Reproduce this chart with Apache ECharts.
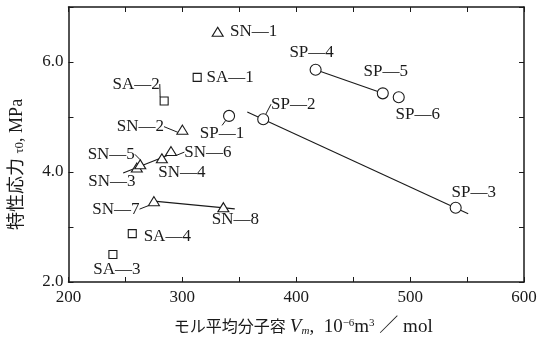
<!DOCTYPE html>
<html><head><meta charset="utf-8">
<script src="https://cdn.jsdelivr.net/npm/echarts@6/dist/echarts.min.js"></script>
<style>html,body{margin:0;padding:0;background:#fff}#c{width:542px;height:342px}</style>
</head><body><div id="c"></div>
<script>
// ---- data ----
const xTickLabels = [200, 300, 400, 500, 600];
const yTickLabels = [2.0, 4.0, 6.0];

const snNames = ['SN—1','SN—2','SN—3','SN—4','SN—5','SN—6','SN—7','SN—8'];
const snX = [331, 300, 260, 282, 263, 290, 275, 336];
const snY = [6.55, 4.77, 4.08, 4.25, 4.14, 4.38, 3.47, 3.36];

const saNames = ['SA—1','SA—2','SA—3','SA—4'];
const saX = [313, 284, 239, 256];
const saY = [5.72, 5.29, 2.50, 2.88];

const spNames = ['SP—1','SP—2','SP—3','SP—4','SP—5','SP—6'];
const spX = [341, 371, 540, 417, 476, 490];
const spY = [5.02, 4.96, 3.35, 5.86, 5.43, 5.36];

// trend lines (end points)
const lineSP23X = [357, 551], lineSP23Y = [5.09, 3.24];
const lineSP45X = [417, 476], lineSP45Y = [5.86, 5.43];
const lineSN78X = [275, 346], lineSN78Y = [3.47, 3.33];
const lineSN36X = [248, 289], lineSN36Y = [3.98, 4.32];

// ---- label styling (offsets of label centres in px) ----
const labelOffsets = {
  'SN—1':[36,0],'SN—2':[-42,-3],'SN—3':[-25,14],'SN—4':[20,14],'SN—5':[-29,-10],
  'SN—6':[37,1],'SN—7':[-38,8],'SN—8':[12,12],
  'SA—1':[33,0],'SA—2':[-28,-17],'SA—3':[4,15],'SA—4':[35,3],
  'SP—1':[-7,18],'SP—2':[30,-15],'SP—3':[18,-15],'SP—4':[-4,-17],'SP—5':[3,-22],'SP—6':[19,17]
};
const leaders = new Set(['SA—2','SN—2','SP—1','SP—2','SN—6','SN—7','SN—5']);

const SERIF = "'Liberation Serif','Noto Sans CJK JP',serif";
const INK = '#1a1a1a';

function pts(names, xs, ys) {
  return names.map((n, i) => ({
    name: n, value: [xs[i], ys[i]],
    labelLine: { show: leaders.has(n), lineStyle: { color: INK, width: 1 } }
  }));
}
function pairs(xs, ys) { return xs.map((x, i) => [x, ys[i]]); }

function scatter(names, xs, ys, symbol, size) {
  return {
    type: 'scatter', symbol: symbol, symbolSize: size, z: 5,
    itemStyle: { color: '#fff', borderColor: INK, borderWidth: 1.1, opacity: 1 },
    data: pts(names, xs, ys),
    label: {
      show: true, position: 'inside', formatter: p => p.name,
      fontFamily: SERIF, fontSize: 17, color: INK
    },
    labelLayout: function (p) {
      const o = labelOffsets[names[p.dataIndex]];
      return { dx: o[0], dy: o[1] };
    },
    emphasis: { disabled: true },
    silent: true
  };
}
function trend(xs, ys) {
  return {
    type: 'line', data: pairs(xs, ys), symbol: 'none', z: 3, silent: true,
    lineStyle: { color: INK, width: 1.1 }
  };
}

const axisCommon = {
  axisLine: { show: true, onZero: false, lineStyle: { color: INK, width: 1.5 } },
  axisTick: { show: true, inside: true, length: 5, lineStyle: { color: INK, width: 1 } },
  splitLine: { show: false }
};

const option = {
  animation: false,
  backgroundColor: '#fff',
  grid: { left: 68, right: 18, top: 7, bottom: 52 },
  xAxis: [
    Object.assign({
      type: 'value', min: 200, max: 600, interval: 50, position: 'bottom',
      axisLabel: {
        margin: 7, fontFamily: SERIF, fontSize: 17, color: INK,
        formatter: v => (xTickLabels.indexOf(v) >= 0 ? String(v) : '')
      },
      name: 'モル平均分子容 {i|V}{sub|m}{t|,  10}{sup|−6}{t|m}{sup|3}{t| ／ mol}',
      nameLocation: 'middle', nameGap: 36,
      nameTextStyle: {
        fontFamily: SERIF, fontSize: 16, color: INK, padding: [0, 0, 0, 14],
        rich: {
          i: { fontFamily: SERIF, fontStyle: 'italic', fontSize: 19, color: INK },
          t: { fontFamily: SERIF, fontSize: 19, color: INK },
          sub: { fontFamily: SERIF, fontStyle: 'italic', fontSize: 11, color: INK, padding: [8, 0, 0, 0] },
          sup: { fontFamily: SERIF, fontSize: 11, color: INK, padding: [0, 0, 8, 0] }
        }
      }
    }, axisCommon),
    Object.assign({
      type: 'value', min: 200, max: 600, interval: 50, position: 'top',
      axisLabel: { show: false }
    }, axisCommon)
  ],
  yAxis: [
    Object.assign({
      type: 'value', min: 2, max: 7, interval: 1, position: 'left',
      axisLabel: {
        margin: 5, fontFamily: SERIF, fontSize: 17, color: INK,
        formatter: v => (yTickLabels.indexOf(v) >= 0 ? v.toFixed(1) : '')
      },
      name: '特性応力 {s|τ0}, {m|MPa}',
      nameLocation: 'middle', nameGap: 42,
      nameTextStyle: {
        fontFamily: SERIF, fontSize: 18, color: INK, padding: [0, 40, 0, 0],
        rich: {
          s: { fontFamily: SERIF, fontSize: 13, color: INK, padding: [6, 0, 0, 0] },
          m: { fontFamily: SERIF, fontSize: 18, color: INK }
        }
      }
    }, axisCommon),
    Object.assign({
      type: 'value', min: 2, max: 7, interval: 1, position: 'right',
      axisLabel: { show: false }
    }, axisCommon)
  ],
  series: [
    trend(lineSP23X, lineSP23Y),
    trend(lineSP45X, lineSP45Y),
    trend(lineSN78X, lineSN78Y),
    trend(lineSN36X, lineSN36Y),
    scatter(snNames, snX, snY, 'triangle', [11, 9]),
    scatter(saNames, saX, saY, 'rect', 8),
    scatter(spNames, spX, spY, 'circle', 11)
  ]
};
echarts.init(document.getElementById('c'), null, { renderer: 'canvas' }).setOption(option);
</script>
</body></html>
